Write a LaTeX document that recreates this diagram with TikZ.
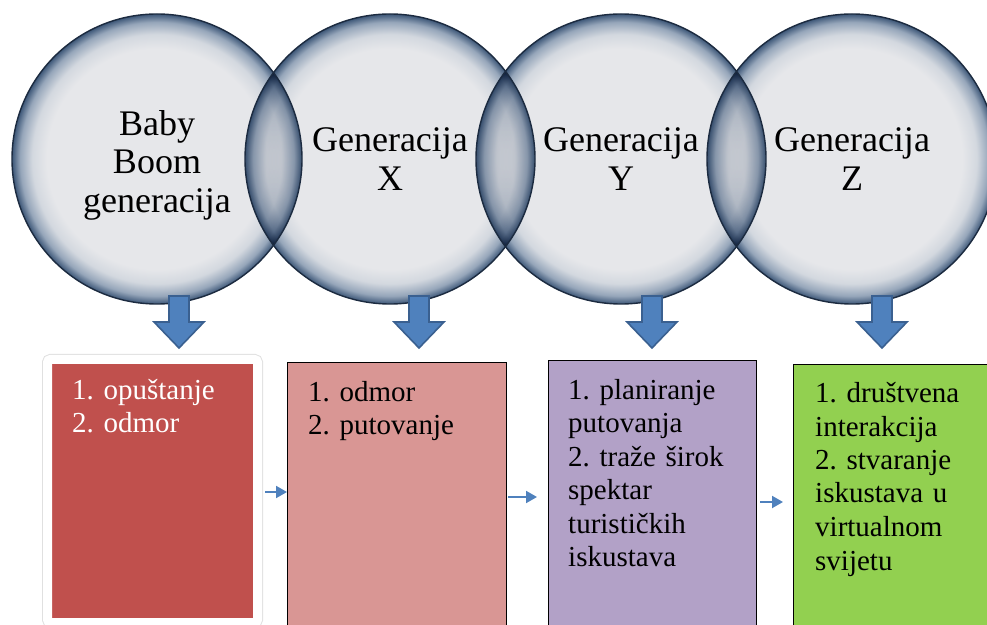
\documentclass[tikz,border=0pt]{standalone}
\usepackage{fontspec}
\setmainfont{Liberation Serif}
\frenchspacing
\usetikzlibrary{arrows.meta, positioning}
\definecolor{cred}{HTML}{C0504D}
\definecolor{cpink}{HTML}{D99694}
\definecolor{clilac}{HTML}{B2A1C7}
\definecolor{cgreen}{HTML}{92D050}
\definecolor{cblue}{HTML}{4F81BD}
\definecolor{cbluedark}{HTML}{3A6090}
\definecolor{crim}{HTML}{1C2B40}
\definecolor{cfog}{HTML}{E6E7EA}
\definecolor{cringa}{HTML}{D3D8DF}
\definecolor{cringb}{HTML}{96A6BA}
\definecolor{cringc}{HTML}{3C5677}
\pgfdeclareradialshading{bubble}{\pgfpoint{0bp}{0bp}}{%
  color(0bp)=(cfog); color(19bp)=(cfog); color(21.5bp)=(cringa);
  color(23.6bp)=(cringb); color(25bp)=(cringc); color(50bp)=(cringc)}
\tikzset{
  bubble/.style={circle, minimum size=290pt, inner sep=0pt, shade, shading=bubble, blend mode=multiply},
  gentext/.style={align=center, inner sep=0pt, font=\fontsize{36}{38.5}\selectfont},
  rim/.style={draw=crim, line width=1.4pt},
  drop/.style={fill=cblue, draw=cbluedark, line width=1.6pt, line join=miter},
  box/.style={draw=black, line width=0.8pt, fill=#1, anchor=north west, inner sep=0pt, outer sep=0pt},
  item/.style={anchor=base west, align=left, text width=190pt, inner sep=0pt, font=\fontsize{29}{33.5}\selectfont},
  link/.style={-{Triangle[length=11pt, width=12pt]}, draw=cblue, line width=2pt},
}
\begin{document}
\begin{tikzpicture}[x=1pt, y=1pt]
  \useasboundingbox (0,0) rectangle (987,624);
  \node[bubble] (g1) at (157,465) {};
  \node[bubble] (g2) at (390,465) {};
  \node[bubble] (g3) at (621,465) {};
  \node[bubble] (g4) at (852,465) {};
  \foreach \g in {g1,g2,g3,g4}
    \draw[rim] (\g.center) circle[radius=145];

  \node[gentext] (n1) at ([yshift=-6pt]g1.center) {Baby\\Boom\\generacija};
  \node[gentext] (n2) at (g2.center) {Generacija\\X};
  \node[gentext] (n3) at (g3.center) {Generacija\\Y};
  \node[gentext] (n4) at (g4.center) {Generacija\\Z};

  \foreach \x in {179,419,652,882}
    \draw[drop] (\x-10,328) -- (\x+10,328) -- (\x+10,302) -- (\x+25,302) -- (\x,276) -- (\x-25,302) -- (\x-10,302) -- cycle;

  \node[box=cred, draw=white, line width=9pt, rounded corners=3pt, preaction={draw=black!12, line width=11pt, rounded corners=3pt}, minimum width=210pt, minimum height=263pt] (b1) at (47.5,264.5) {};
  \node[box=cpink, minimum width=219pt, minimum height=272pt] (b2) at (287,262) {};
  \node[box=clilac, minimum width=208pt, minimum height=274pt] (b3) at (548,264) {};
  \node[box=cgreen, minimum width=210pt, minimum height=270pt] (b4) at (793,260) {};

  \node[item, text=white] (t1) at ([shift={(24.5,-40)}]b1.north west) {1. opuštanje\\2. odmor};
  \node[item] (t2) at ([shift={(21,-39.5)}]b2.north west) {1. odmor\\2. putovanje};
  \node[item] (t3) at ([shift={(20,-39.5)}]b3.north west) {1. planiranje\\putovanja\\2. traže širok\\spektar\\turističkih\\iskustava};
  \node[item] (t4) at ([shift={(22,-38.5)}]b4.north west) {1. društvena\\interakcija\\2. stvaranje\\iskustava u\\virtualnom\\svijetu};

  \draw[link] ([xshift=7.5pt,yshift=-1pt]b1.east) -- ([yshift=6pt]b2.west);
  \draw[link] ([xshift=2pt,yshift=1pt]b2.east) -- ([xshift=-11pt]b3.west);
  \draw[link] ([xshift=4pt,yshift=-5pt]b3.east) -- ([xshift=-10pt,yshift=-3pt]b4.west);
\end{tikzpicture}
\end{document}
